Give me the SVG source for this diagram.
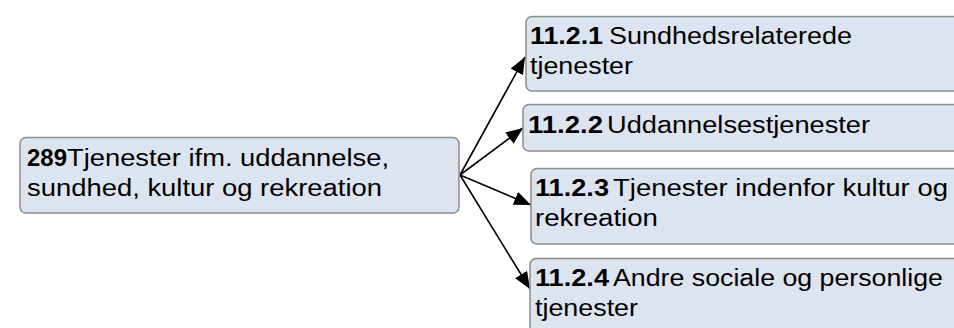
<svg xmlns="http://www.w3.org/2000/svg" width="954" height="328" viewBox="0 0 954 328">
<style>
.box{fill:#dce4f0;stroke:#8c8c8c;stroke-width:1.5}
.t{font-family:"Liberation Sans",Arial,sans-serif;font-size:23.5px;fill:#000}
.b{font-weight:bold}
.conn{stroke:#000;stroke-width:1.6;fill:none;marker-end:url(#arr)}
</style>
<defs>
<marker id="arr" markerUnits="userSpaceOnUse" markerWidth="18" markerHeight="14" refX="17" refY="7" orient="auto">
<path d="M0,0 L17,7 L0,14 z" fill="#000"/>
</marker>
</defs>
<rect width="954" height="328" fill="#fff"/>
<g id="connectors">
<line class="conn" x1="460" y1="175" x2="525" y2="57"/>
<line class="conn" x1="460" y1="175" x2="523" y2="128"/>
<line class="conn" x1="460" y1="175" x2="531" y2="205"/>
<line class="conn" x1="460" y1="175" x2="530" y2="289"/>
</g>
<g id="n289">
<rect class="box" x="20" y="137.5" width="439" height="75.5" rx="6"/>
<text class="t" y="166"><tspan class="b" x="27" textLength="40" lengthAdjust="spacingAndGlyphs">289</tspan><tspan x="67" textLength="322" lengthAdjust="spacingAndGlyphs">Tjenester ifm. uddannelse,</tspan></text>
<text class="t" y="196"><tspan x="27" textLength="355" lengthAdjust="spacingAndGlyphs">sundhed, kultur og rekreation</tspan></text>
</g>
<g id="n1121">
<rect class="box" x="526" y="16.5" width="440" height="74.5" rx="6"/>
<text class="t" y="44"><tspan class="b" x="530" textLength="73" lengthAdjust="spacingAndGlyphs">11.2.1</tspan><tspan x="609" textLength="243" lengthAdjust="spacingAndGlyphs">Sundhedsrelaterede</tspan></text>
<text class="t" y="74"><tspan x="530" textLength="103" lengthAdjust="spacingAndGlyphs">tjenester</tspan></text>
</g>
<g id="n1122">
<rect class="box" x="523" y="104.5" width="440" height="46.5" rx="6"/>
<text class="t" y="133"><tspan class="b" x="528" textLength="75" lengthAdjust="spacingAndGlyphs">11.2.2</tspan><tspan x="607" textLength="263" lengthAdjust="spacingAndGlyphs">Uddannelsestjenester</tspan></text>
</g>
<g id="n1123">
<rect class="box" x="531" y="168.5" width="440" height="75.5" rx="6"/>
<text class="t" y="196"><tspan class="b" x="535" textLength="74" lengthAdjust="spacingAndGlyphs">11.2.3</tspan><tspan x="613" textLength="335" lengthAdjust="spacingAndGlyphs">Tjenester indenfor kultur og</tspan></text>
<text class="t" y="226"><tspan x="535" textLength="123" lengthAdjust="spacingAndGlyphs">rekreation</tspan></text>
</g>
<g id="n1124">
<rect class="box" x="530" y="258.5" width="440" height="76" rx="6"/>
<text class="t" y="286"><tspan class="b" x="535" textLength="74" lengthAdjust="spacingAndGlyphs">11.2.4</tspan><tspan x="613" textLength="330" lengthAdjust="spacingAndGlyphs">Andre sociale og personlige</tspan></text>
<text class="t" y="316"><tspan x="535" textLength="103" lengthAdjust="spacingAndGlyphs">tjenester</tspan></text>
</g>
</svg>
